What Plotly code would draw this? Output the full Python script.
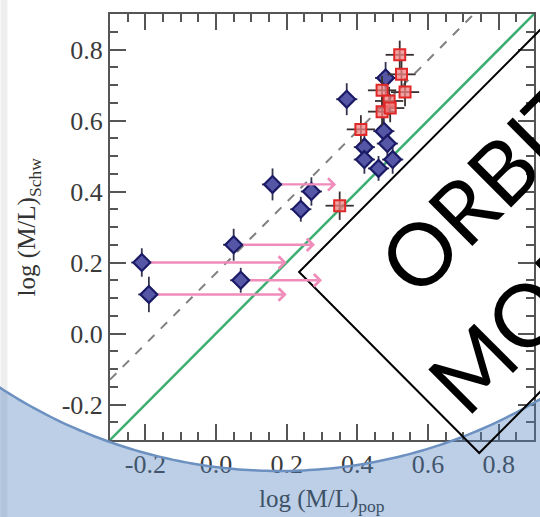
import numpy as np
import plotly.graph_objects as go

# ---------------- data ----------------
# Schwarzschild-model vs stellar-population mass-to-light ratios
diamond_x = [-0.21, -0.19, 0.05, 0.07, 0.16, 0.27, 0.24, 0.37, 0.48, 0.475, 0.485, 0.42, 0.42, 0.50, 0.46]
diamond_y = [0.20, 0.11, 0.25, 0.15, 0.42, 0.40, 0.35, 0.66, 0.72, 0.57, 0.535, 0.525, 0.49, 0.49, 0.465]
diamond_ex = [0.03, 0.03, 0.03, 0.03, 0.03, 0.03, 0.03, 0.03, 0.03, 0.03, 0.03, 0.03, 0.03, 0.03, 0.03]
diamond_ey = [0.04, 0.05, 0.045, 0.035, 0.045, 0.04, 0.035, 0.045, 0.045, 0.04, 0.04, 0.04, 0.04, 0.04, 0.035]

square_x = [0.35, 0.41, 0.47, 0.47, 0.49, 0.52, 0.525, 0.535, 0.493]
square_y = [0.36, 0.575, 0.625, 0.685, 0.655, 0.785, 0.73, 0.68, 0.635]
square_ex = [0.04, 0.04, 0.04, 0.04, 0.04, 0.04, 0.04, 0.04, 0.04]
square_ey = [0.04, 0.04, 0.04, 0.04, 0.04, 0.04, 0.04, 0.04, 0.04]

# lower limits on the population M/L (arrows)
limit_start_x = [-0.21, -0.19, 0.05, 0.07, 0.16]
limit_end_x = [0.20, 0.20, 0.28, 0.30, 0.34]
limit_y = [0.20, 0.11, 0.25, 0.15, 0.42]

dashed_offset = 0.17
axis_range = [-0.3, 0.9]
tick_vals = [-0.2, 0.0, 0.2, 0.4, 0.6, 0.8]
tick_text = ["-0.2", "0.0", "0.2", "0.4", "0.6", "0.8"]

# ---------------- layout geometry ----------------
W, H = 540, 517
ML, MR, MT, MB = 110, 4, 14, 77
PW = W - ML - MR
PH = H - MT - MB


def to_px(x):
    return (x - ML) / PW


def to_py(y):
    return (H - MB - y) / PH


def path_from(points, close=True):
    parts = []
    for i, (x, y) in enumerate(points):
        parts.append(("M" if i == 0 else "L") + f"{to_px(x):.5f},{to_py(y):.5f}")
    return " ".join(parts) + (" Z" if close else "")


fig = go.Figure()

# one-to-one line
fig.add_trace(go.Scatter(
    x=axis_range, y=axis_range, mode="lines",
    line=dict(color="#3dae72", width=2.5), hoverinfo="skip", showlegend=False))

# offset dashed line
dash_x = [axis_range[0], axis_range[1] - dashed_offset]
fig.add_trace(go.Scatter(
    x=dash_x, y=[v + dashed_offset for v in dash_x], mode="lines",
    line=dict(color="#808080", width=2, dash="dash"), hoverinfo="skip", showlegend=False))

# diamonds with error bars
fig.add_trace(go.Scatter(
    x=diamond_x, y=diamond_y, mode="markers",
    marker=dict(symbol="diamond", size=13, color="#5656a6",
                line=dict(color="#1a1a66", width=2.2)),
    error_x=dict(type="data", array=diamond_ex, color="#34344e", thickness=1.8, width=0),
    error_y=dict(type="data", array=diamond_ey, color="#34344e", thickness=1.8, width=0),
    showlegend=False))

# squares with error bars
fig.add_trace(go.Scatter(
    x=square_x, y=square_y, mode="markers",
    marker=dict(symbol="square", size=11, color="rgba(240,130,130,0.75)",
                line=dict(color="#e02828", width=2)),
    error_x=dict(type="data", array=square_ex, color="#3a3030", thickness=1.8, width=0),
    error_y=dict(type="data", array=square_ey, color="#3a3030", thickness=1.8, width=0),
    showlegend=False))

annotations = []
for xs, xe, yv in zip(limit_start_x, limit_end_x, limit_y):
    annotations.append(dict(
        x=xe, y=yv, ax=xs, ay=yv, xref="x", yref="y", axref="x", ayref="y",
        text="", showarrow=True, arrowhead=4, arrowsize=1.0, arrowwidth=2.4,
        arrowcolor="#f08cba", startstandoff=8))

# axis titles
annotations.append(dict(
    x=to_px(323), y=to_py(500), xref="paper", yref="paper", showarrow=False,
    text="log (M/L)<sub>pop</sub>", xanchor="center", yanchor="middle",
    font=dict(family="Liberation Serif", size=25, color="#3e5167")))
annotations.append(dict(
    x=to_px(28), y=to_py(227), xref="paper", yref="paper", showarrow=False,
    text="log (M/L)<sub>Schw</sub>", textangle=-90, xanchor="center", yanchor="middle",
    font=dict(family="Liberation Serif", size=25, color="#333333")))

# rotated label
annotations.append(dict(
    x=to_px(486), y=to_py(186), xref="paper", yref="paper", showarrow=False,
    text="ORBIT", textangle=-45, xanchor="center", yanchor="middle",
    font=dict(family="Lato", size=87, color="black")))
annotations.append(dict(
    x=to_px(572), y=to_py(268), xref="paper", yref="paper", showarrow=False,
    text="MODELS", textangle=-45, xanchor="center", yanchor="middle",
    font=dict(family="Lato", size=87, color="black")))

# lower backdrop bounded by a large circle
cx, cy, R = 280.0, -43.0, 514.0
arc_x = np.linspace(-10, 550, 120)
arc_y = cy + np.sqrt(R ** 2 - (arc_x - cx) ** 2)
arc_pts = list(zip(arc_x, arc_y))
backdrop = arc_pts + [(550, H + 10), (-10, H + 10)]

shapes = [
    dict(type="rect", xref="paper", yref="paper",
         x0=to_px(0), x1=to_px(7), y0=to_py(H), y1=to_py(0),
         fillcolor="#eeeeee", line=dict(width=0), layer="below"),
    dict(type="path", xref="paper", yref="paper", path=path_from(backdrop),
         fillcolor="rgba(79,129,189,0.38)", line=dict(width=0), layer="above"),
    dict(type="path", xref="paper", yref="paper", path=path_from(arc_pts, close=False),
         line=dict(color="rgb(108,145,192)", width=2.5), layer="above"),
    dict(type="path", xref="paper", yref="paper",
         path=path_from([(300, 272), (570, 2), (751, 183), (481, 453)]),
         line=dict(color="black", width=2), fillcolor="rgba(0,0,0,0)", layer="above"),
]

axis_common = dict(
    range=axis_range, tickvals=tick_vals, ticktext=tick_text,
    ticks="inside", ticklen=16, tickwidth=2, tickcolor="#555555",
    showline=True, linecolor="#555555", linewidth=2, mirror="ticks",
    showgrid=False, zeroline=False,
    tickfont=dict(family="Liberation Serif", size=26, color="#3a3a3a"),
    minor=dict(dtick=0.05, tick0=0, ticks="inside", ticklen=8, tickwidth=1.5,
               tickcolor="#555555", showgrid=False),
)

fig.update_layout(
    width=W, height=H,
    margin=dict(l=ML, r=MR, t=MT, b=MB, pad=0),
    paper_bgcolor="white", plot_bgcolor="white",
    xaxis=dict(**axis_common),
    yaxis=dict(**axis_common),
    annotations=annotations,
    shapes=shapes,
    showlegend=False,
)

fig.write_html("out.html")
